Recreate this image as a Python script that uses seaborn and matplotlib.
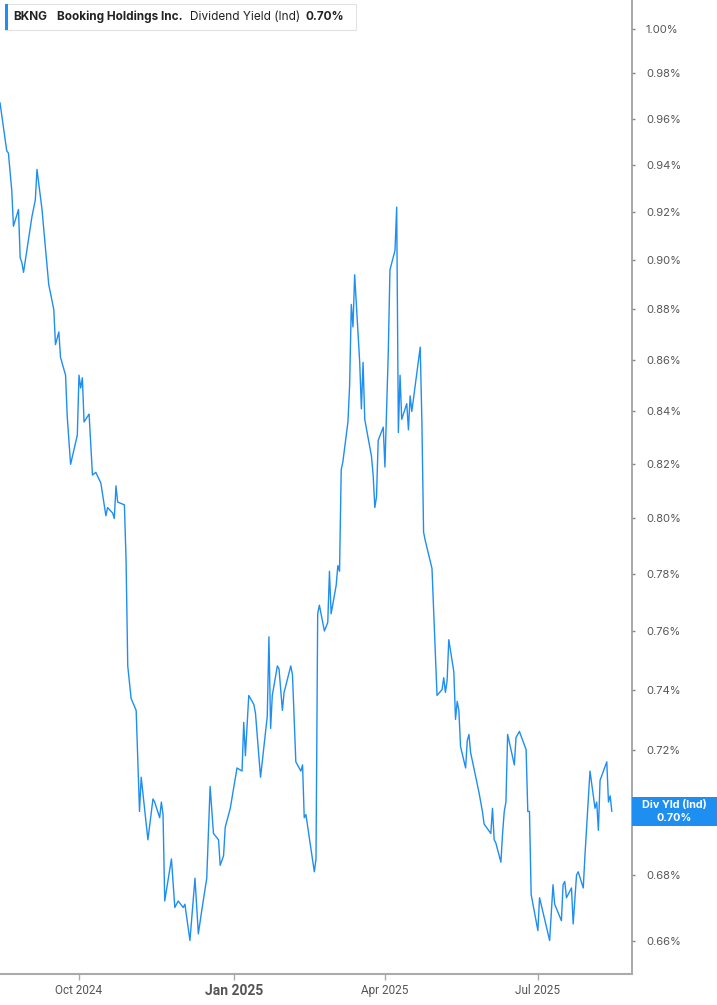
import pandas as pd
import matplotlib.pyplot as plt
import matplotlib.dates as mdates
from matplotlib.ticker import FuncFormatter, FixedLocator, NullLocator
from matplotlib.patches import Rectangle
import seaborn as sns

# BKNG dividend yield (indicated)
dates = [
    "2024-08-15", "2024-08-19", "2024-08-20", "2024-08-22", "2024-08-23", "2024-08-26",
    "2024-08-27", "2024-08-28", "2024-08-29", "2024-09-03", "2024-09-05", "2024-09-06",
    "2024-09-09", "2024-09-10", "2024-09-13", "2024-09-16", "2024-09-17", "2024-09-19",
    "2024-09-20", "2024-09-23", "2024-09-24", "2024-09-26", "2024-09-30", "2024-10-01",
    "2024-10-02", "2024-10-03", "2024-10-04", "2024-10-07", "2024-10-09", "2024-10-11",
    "2024-10-14", "2024-10-17", "2024-10-18", "2024-10-21", "2024-10-22", "2024-10-23",
    "2024-10-24", "2024-10-28", "2024-10-29", "2024-10-30", "2024-11-01", "2024-11-04",
    "2024-11-06", "2024-11-07", "2024-11-11", "2024-11-14", "2024-11-15", "2024-11-18",
    "2024-11-19", "2024-11-20", "2024-11-21", "2024-11-25", "2024-11-27", "2024-11-29",
    "2024-12-02", "2024-12-03", "2024-12-06", "2024-12-09", "2024-12-11", "2024-12-13",
    "2024-12-16", "2024-12-18", "2024-12-20", "2024-12-23", "2024-12-24", "2024-12-26",
    "2024-12-27", "2024-12-30", "2025-01-03", "2025-01-06", "2025-01-07", "2025-01-08",
    "2025-01-10", "2025-01-13", "2025-01-14", "2025-01-17", "2025-01-21", "2025-01-22",
    "2025-01-23", "2025-01-24", "2025-01-27", "2025-01-28", "2025-01-30", "2025-01-31",
    "2025-02-04", "2025-02-05", "2025-02-07", "2025-02-10", "2025-02-11", "2025-02-12",
    "2025-02-13", "2025-02-18", "2025-02-19", "2025-02-20", "2025-02-21", "2025-02-24",
    "2025-02-26", "2025-02-27", "2025-02-28", "2025-03-03", "2025-03-04", "2025-03-05",
    "2025-03-06", "2025-03-07", "2025-03-10", "2025-03-11", "2025-03-12", "2025-03-13",
    "2025-03-14", "2025-03-17", "2025-03-18", "2025-03-19", "2025-03-20", "2025-03-24",
    "2025-03-25", "2025-03-26", "2025-03-27", "2025-03-28", "2025-03-31", "2025-04-01",
    "2025-04-03", "2025-04-04", "2025-04-07", "2025-04-08", "2025-04-09", "2025-04-10",
    "2025-04-11", "2025-04-14", "2025-04-15", "2025-04-16", "2025-04-17", "2025-04-22",
    "2025-04-23", "2025-04-24", "2025-04-25", "2025-04-29", "2025-05-01", "2025-05-02",
    "2025-05-05", "2025-05-06", "2025-05-07", "2025-05-08", "2025-05-09", "2025-05-12",
    "2025-05-13", "2025-05-14", "2025-05-15", "2025-05-16", "2025-05-19", "2025-05-20",
    "2025-05-21", "2025-05-22", "2025-05-27", "2025-05-29", "2025-05-30", "2025-06-03",
    "2025-06-04", "2025-06-05", "2025-06-06", "2025-06-09", "2025-06-10", "2025-06-11",
    "2025-06-12", "2025-06-13", "2025-06-17", "2025-06-18", "2025-06-20", "2025-06-24",
    "2025-06-25", "2025-06-26", "2025-06-27", "2025-07-01", "2025-07-02", "2025-07-08",
    "2025-07-10", "2025-07-11", "2025-07-15", "2025-07-16", "2025-07-17", "2025-07-18",
    "2025-07-21", "2025-07-22", "2025-07-24", "2025-07-25", "2025-07-28", "2025-07-29",
    "2025-08-01", "2025-08-04", "2025-08-05", "2025-08-06", "2025-08-07", "2025-08-11",
    "2025-08-12", "2025-08-13", "2025-08-14",
]
div_yield = [
    0.967, 0.946, 0.945, 0.929, 0.914, 0.921,
    0.901, 0.899, 0.895, 0.918, 0.925, 0.938,
    0.921, 0.913, 0.890, 0.880, 0.866, 0.871,
    0.861, 0.854, 0.838, 0.820, 0.831, 0.854,
    0.849, 0.853, 0.836, 0.839, 0.816, 0.817,
    0.813, 0.801, 0.804, 0.802, 0.800, 0.812,
    0.806, 0.805, 0.785, 0.748, 0.737, 0.733,
    0.700, 0.711, 0.691, 0.704, 0.703, 0.698,
    0.703, 0.699, 0.672, 0.685, 0.670, 0.672,
    0.670, 0.671, 0.660, 0.679, 0.662, 0.669,
    0.679, 0.708, 0.693, 0.691, 0.683, 0.686,
    0.695, 0.701, 0.714, 0.713, 0.729, 0.718,
    0.738, 0.735, 0.732, 0.711, 0.731, 0.758,
    0.727, 0.738, 0.748, 0.747, 0.733, 0.739,
    0.748, 0.745, 0.716, 0.713, 0.715, 0.698,
    0.699, 0.681, 0.685, 0.766, 0.769, 0.760,
    0.763, 0.781, 0.766, 0.776, 0.783, 0.781,
    0.818, 0.821, 0.836, 0.850, 0.882, 0.873,
    0.894, 0.859, 0.841, 0.859, 0.837, 0.823,
    0.816, 0.804, 0.808, 0.829, 0.834, 0.819,
    0.863, 0.896, 0.904, 0.922, 0.832, 0.854,
    0.837, 0.843, 0.833, 0.846, 0.840, 0.865,
    0.836, 0.795, 0.792, 0.782, 0.753, 0.738,
    0.740, 0.744, 0.739, 0.743, 0.757, 0.746,
    0.730, 0.736, 0.733, 0.721, 0.714, 0.723,
    0.725, 0.719, 0.706, 0.700, 0.696, 0.693,
    0.701, 0.691, 0.690, 0.684, 0.693, 0.700,
    0.703, 0.725, 0.715, 0.724, 0.726, 0.720,
    0.700, 0.700, 0.674, 0.663, 0.673, 0.660,
    0.677, 0.671, 0.666, 0.677, 0.678, 0.673,
    0.676, 0.665, 0.680, 0.681, 0.676, 0.686,
    0.713, 0.701, 0.703, 0.694, 0.710, 0.716,
    0.703, 0.705, 0.700,
]

y_ticks = [0.66, 0.68, 0.70, 0.72, 0.74, 0.76, 0.78, 0.80, 0.82, 0.84,
           0.86, 0.88, 0.90, 0.92, 0.94, 0.96, 0.98, 1.00]
x_ticks = ["2024-10-01", "2025-01-01", "2025-04-01", "2025-07-01"]
x_labels = ["Oct 2024", "Jan 2025", "Apr 2025", "Jul 2025"]

ticker = "BKNG"
company = "Booking Holdings Inc."
metric = "Dividend Yield (Ind)"
badge = "Div Yld (Ind)"

df = pd.DataFrame({"date": pd.to_datetime(dates), "yield": div_yield})
last = df["yield"].iloc[-1]

sns.set_style("white")
plt.rcParams["font.family"] = ["Inter", "DejaVu Sans"]

blue = "#1f8ef1"
W, H = 717, 1005
fig = plt.figure(figsize=(W / 100, H / 100), dpi=100)
ax = fig.add_axes([0, 1 - 974 / H, 632 / W, 974 / H])

sns.lineplot(data=df, x="date", y="yield", ax=ax, color=blue, linewidth=1.0)

ax.set_yscale("log")
ax.set_ylim(0.650, 1.0133)
ax.set_xlim(pd.Timestamp("2024-08-15"), pd.Timestamp("2025-08-26"))


def pct(v, p):
    # the last-value badge sits over this tick label
    if abs(v - round(last, 2)) < 1e-6:
        return ""
    return f"{v:.2f}%"


# y axis on the right, percent labels
ax.yaxis.tick_right()
ax.yaxis.set_major_locator(FixedLocator(y_ticks))
ax.yaxis.set_minor_locator(NullLocator())
ax.yaxis.set_major_formatter(FuncFormatter(pct))
ax.tick_params(axis="y", right=True, left=False, length=2, width=1, color="#888",
               labelsize=8, labelcolor="#555", pad=8)

ax.set_xticks(mdates.date2num(pd.to_datetime(x_ticks)))
ax.set_xticklabels(x_labels, family="Roboto")
ax.tick_params(axis="x", bottom=True, length=4, width=1, color="#aaa",
               labelsize=8.5, labelcolor="#555", pad=3)
for lab in ax.get_xticklabels():
    if lab.get_text() == "Jan 2025":
        lab.set_fontweight("bold")
        lab.set_fontsize(10)

ax.set_xlabel("")
ax.set_ylabel("")
for s in ["left", "top"]:
    ax.spines[s].set_visible(False)
ax.spines["right"].set_color("#999")
ax.spines["right"].set_linewidth(1.2)
ax.spines["bottom"].set_color("#aaa")
ax.spines["bottom"].set_linewidth(1.5)

# header box at top left
fig.patches.append(Rectangle((5 / W, 1 - 30 / H), 351 / W, 26 / H, transform=fig.transFigure,
                             facecolor="white", edgecolor="#e2e2e2", linewidth=0.8, zorder=5))
fig.patches.append(Rectangle((5 / W, 1 - 30 / H), 3 / W, 26 / H, transform=fig.transFigure,
                             facecolor=blue, edgecolor="none", zorder=6))
ty = 1 - 17 / H
fig.text(13 / W, ty, ticker, fontsize=8.5, fontweight="bold", color="#222", va="center", zorder=7)
fig.text(57 / W, ty, company, fontsize=8.5, fontweight="bold", color="#222", va="center", zorder=7)
fig.text(190 / W, ty, metric, fontsize=8.5, color="#222", va="center", zorder=7)
fig.text(306 / W, ty, f"{last:.2f}%", fontsize=8.5, fontweight="bold", color="#222", va="center", zorder=7)

# last value badge on the right axis
x_right = ax.get_xlim()[1]
y_px = ax.transData.transform((x_right, last))[1]
yc = y_px / H
fig.patches.append(Rectangle((632 / W, yc - 14.5 / H), 85 / W, 29 / H, transform=fig.transFigure,
                             facecolor=blue, edgecolor="none", zorder=8))
fig.text(674 / W, yc + 6 / H, badge, fontsize=7.8, fontweight="bold", color="white",
         ha="center", va="center", zorder=9)
fig.text(674 / W, yc - 7 / H, f"{last:.2f}%", fontsize=7.8, fontweight="bold", color="white",
         ha="center", va="center", zorder=9)

fig.savefig("out.png", dpi=100)
